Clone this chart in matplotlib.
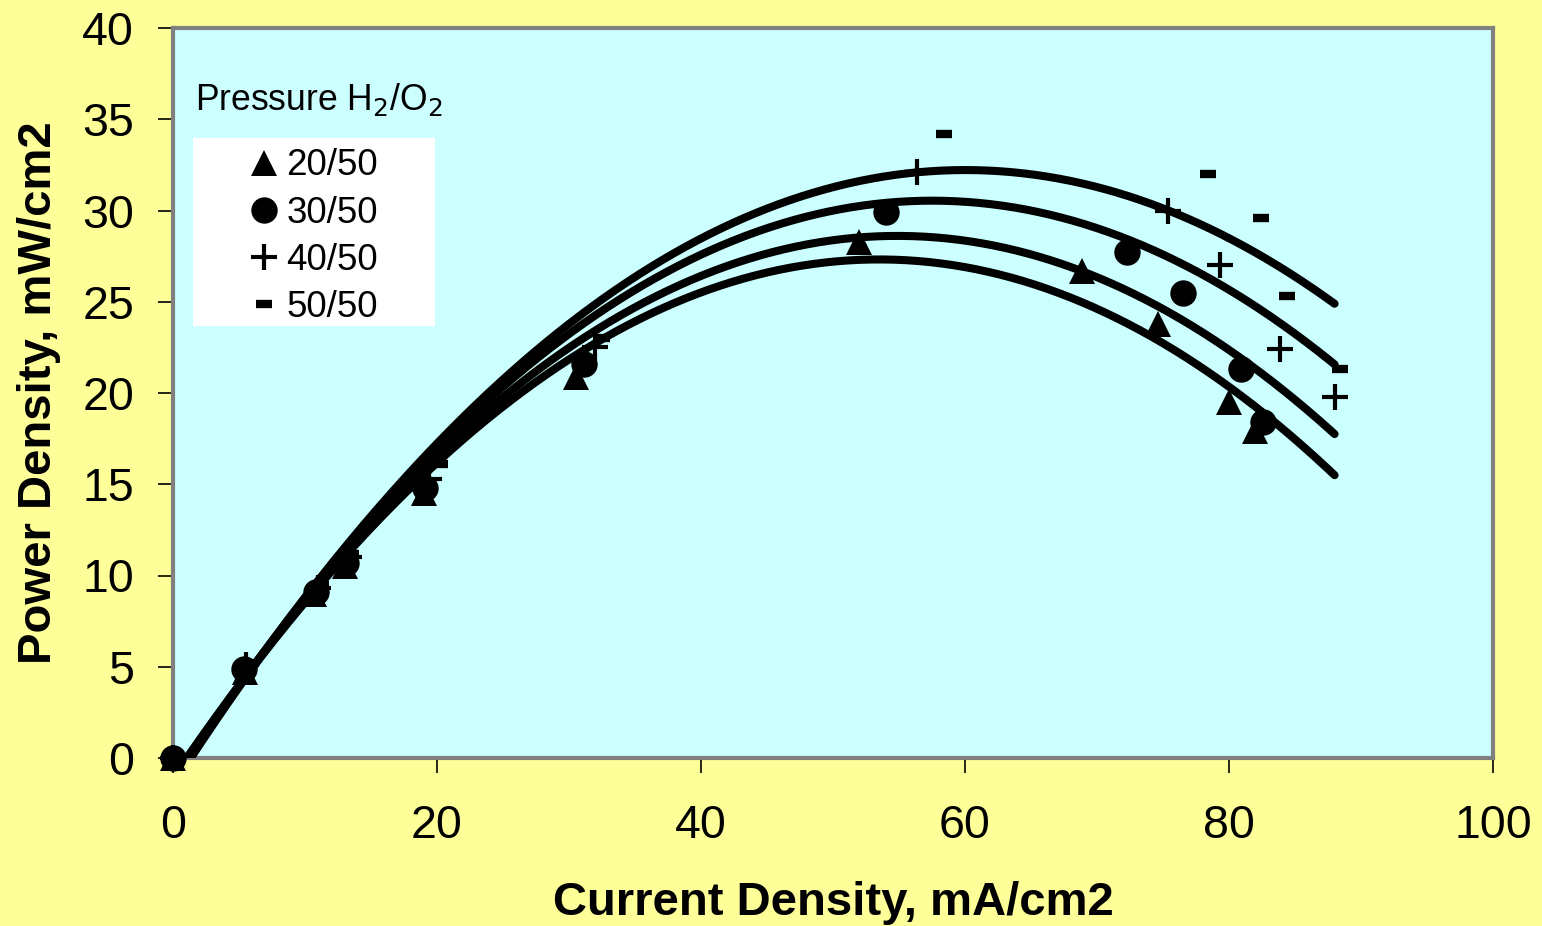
import numpy as np
import matplotlib
matplotlib.use("Agg")
import matplotlib.pyplot as plt
from matplotlib.lines import Line2D
from matplotlib.patches import Rectangle

plt.rcParams['font.family'] = ['Liberation Sans', 'DejaVu Sans']

# ---- data ----
series_labels = ["20/50", "30/50", "40/50", "50/50"]

x_20 = [0, 5.45, 10.7, 13.0, 19.0, 30.5, 52.0, 68.9, 74.6, 80.0, 82.0]
y_20 = [0, 4.7, 9.0, 10.5, 14.5, 20.9, 28.3, 26.7, 23.8, 19.5, 17.9]

x_30 = [0, 5.4, 10.8, 13.1, 19.1, 31.1, 54.0, 72.3, 76.5, 80.9, 82.6]
y_30 = [0, 4.9, 9.1, 10.7, 14.8, 21.6, 29.9, 27.7, 25.5, 21.3, 18.4]

x_40 = [0, 5.5, 11.0, 13.3, 19.4, 32.0, 56.4, 75.4, 79.3, 83.9, 88.0]
y_40 = [0, 5.1, 9.3, 11.0, 15.3, 22.5, 32.1, 30.0, 27.0, 22.4, 19.8]

x_50 = [0, 5.5, 11.2, 13.5, 20.2, 32.5, 58.4, 78.4, 82.4, 84.4, 88.4]
y_50 = [0, 5.2, 9.5, 11.2, 16.1, 23.0, 34.2, 32.0, 29.6, 25.3, 21.3]

x_ticks = [0, 20, 40, 60, 80, 100]
y_ticks = [0, 5, 10, 15, 20, 25, 30, 35, 40]
trend_end = 88.0

xs = [x_20, x_30, x_40, x_50]
ys = [y_20, y_30, y_40, y_50]

# ---- styling ----
BG = '#FFFF99'
PLOT_BG = '#CCFFFF'
markers = [dict(marker='^', markersize=19, mew=0),
           dict(marker='o', markersize=19, mew=0),
           dict(marker='+', markersize=19, mew=3),
           dict(marker='_', markersize=12, mew=6)]

fig = plt.figure(figsize=(15.42, 9.26), dpi=100, facecolor=BG)
ax = fig.add_axes([173/1542, 1 - 758/926, 1320/1542, 730/926])
ax.set_facecolor(PLOT_BG)

for x, y, mk in zip(xs, ys, markers):
    coef = np.polyfit(x, y, 2)
    xx = np.linspace(0, trend_end, 400)
    ax.plot(xx, np.polyval(coef, xx), color='black', lw=5.8,
            solid_capstyle='round', zorder=3)
    ax.plot(x, y, linestyle='none', color='black', clip_on=False,
            zorder=4, **mk)

ax.set_xlim(0, 100)
ax.set_ylim(0, 40)
ax.set_xticks(x_ticks)
ax.set_yticks(y_ticks)
ax.tick_params(axis='both', direction='out', length=11, width=1.2,
               color='black', labelsize=33.5)
ax.tick_params(axis='x', pad=22)
ax.tick_params(axis='y', pad=17)
for s in ax.spines.values():
    s.set_color('#808080')
    s.set_linewidth(3)

ax.set_xlabel('Current Density, mA/cm2', fontsize=34, fontweight='bold',
              labelpad=24)
ax.set_ylabel('Power Density, mW/cm2', fontsize=34, fontweight='bold',
              labelpad=15.5)

# legend
ax.text(0.017, 0.902, 'Pressure H$_2$/O$_2$', transform=ax.transAxes,
        fontsize=25.6, va='center', ha='left')
ax.add_patch(Rectangle((0.0152, 0.592), 0.1833, 0.257,
                       transform=ax.transAxes, facecolor='white',
                       edgecolor='none', zorder=5))
handles = [Line2D([], [], linestyle='none', color='black', **mk)
           for mk in markers]
leg = ax.legend(handles, series_labels, loc='upper left',
                bbox_to_anchor=(0.058, 0.835), borderaxespad=0,
                borderpad=0, frameon=False, fontsize=26.5,
                handlelength=0.8, handletextpad=0.2, labelspacing=0.33)
leg.set_zorder(6)

fig.savefig('out.png', dpi=100, facecolor=BG)
